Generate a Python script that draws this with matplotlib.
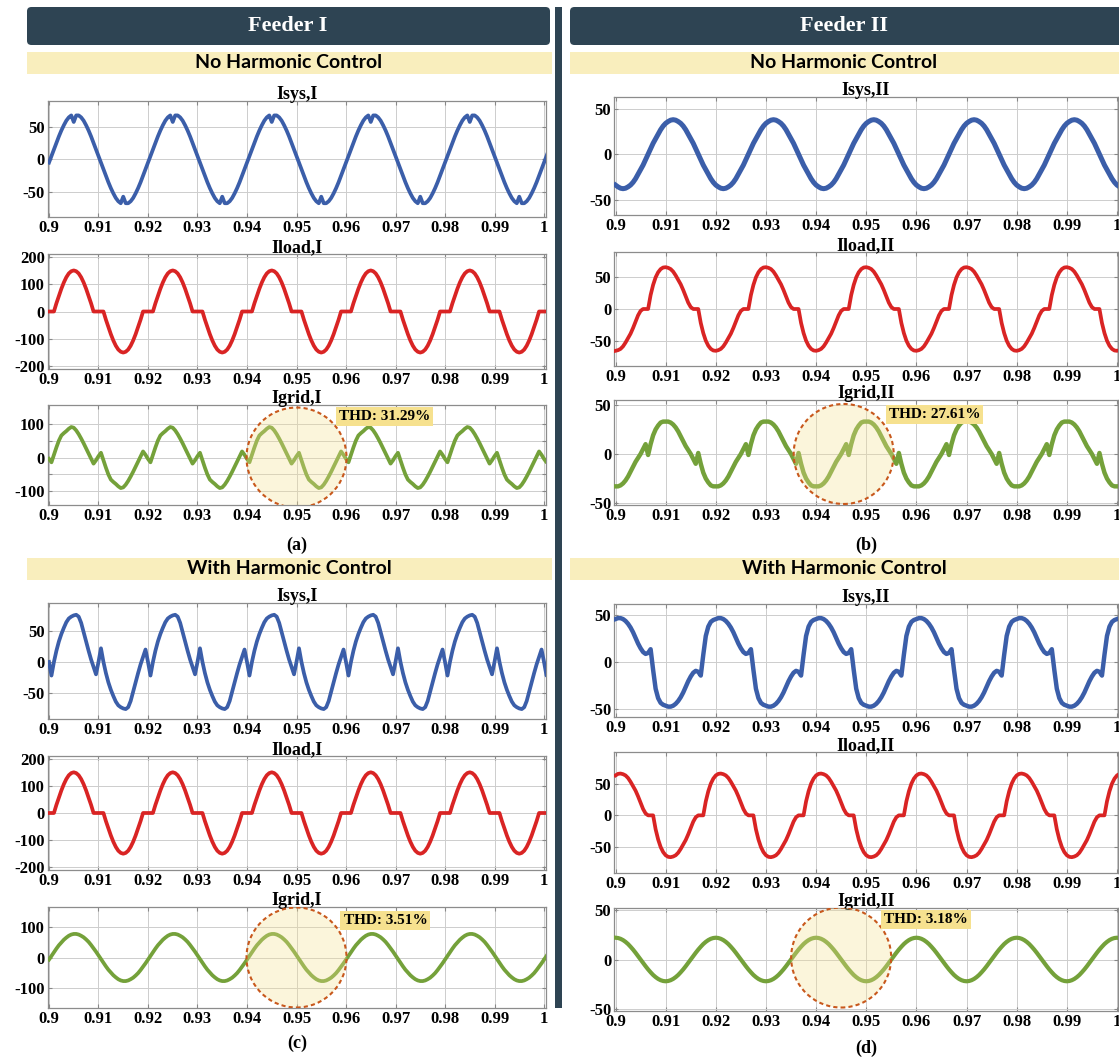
import matplotlib.pyplot as plt
import numpy as np
from matplotlib.patches import Ellipse, FancyBboxPatch, Rectangle

W, H = 1119, 1058

# every waveform: one 20 ms cycle, sampled each 0.5 ms, starting at t = 0.9 s
t_start = 0.9
period = 0.02
x_ticks = [0.9, 0.91, 0.92, 0.93, 0.94, 0.95, 0.96, 0.97, 0.98, 0.99, 1.0]
x_tick_labels = ['0.9', '0.91', '0.92', '0.93', '0.94', '0.95', '0.96', '0.97', '0.98', '0.99', '1']

# (a) Feeder I, no harmonic control
isys_1_noctrl = [-5, 5, 15, 25, 35, 44, 52, 59, 64, 67, 57, 67, 67, 64, 59, 52, 44, 35, 25, 15,
                 5, -5, -15, -25, -35, -44, -52, -59, -64, -67, -57, -67, -67, -64, -59, -52, -44, -35, -25, -15]
iload_1_noctrl = [0, 0, 0, 30, 57, 83, 106, 125, 139, 147, 150, 147, 139, 125, 106, 83, 57, 30, 0, 0,
                  0, 0, 0, -30, -57, -83, -106, -125, -139, -147, -150, -147, -139, -125, -106, -83, -57, -30, 0, 0]
igrid_1_noctrl = [-4, -14, 8, 30, 50, 65, 72, 78, 85, 90, 88, 80, 69, 56, 42, 27, 12, -3, -18, -8,
                  4, 14, -8, -30, -50, -65, -72, -78, -85, -90, -88, -80, -69, -56, -42, -27, -12, 3, 18, 8]

# (b) Feeder II, no harmonic control
isys_2_noctrl = [-34, -36, -37.5, -38, -37.5, -36, -34, -31, -27, -22, -17, -12, -6, 0, 6, 12, 17, 22, 27, 31,
                 34, 36, 37.5, 38, 37.5, 36, 34, 31, 27, 22, 17, 12, 6, 0, -6, -12, -17, -22, -27, -31]
iload_2_noctrl = [-66, -65, -63, -59, -53, -46, -39, -30, -20, -10, -3, 0, 0, 0, 22, 38, 50, 58, 63, 65.5,
                  66, 65, 63, 59, 53, 46, 39, 30, 20, 10, 3, 0, 0, 0, -22, -38, -50, -58, -63, -65.5]
igrid_2_noctrl = [-33, -33, -32, -30, -27, -23, -18, -13, -8, -4, 0, 5, 10, -1, 10, 19, 25, 29, 32, 33,
                  33, 33, 32, 30, 27, 23, 18, 13, 8, 4, 0, -5, -10, 1, -10, -19, -25, -29, -32, -33]

# (c) Feeder I, with harmonic control
isys_1_ctrl = [0, -22, 0, 18, 33, 45, 55, 64, 70, 73, 75, 76, 73, 63, 48, 33, 18, 4, -8, -20,
               0, 22, 0, -18, -33, -45, -55, -64, -70, -73, -75, -76, -73, -63, -48, -33, -18, -4, 8, 20]
iload_1_ctrl = [0, 0, 0, 30, 57, 83, 106, 125, 139, 147, 150, 147, 139, 125, 106, 83, 57, 30, 0, 0,
                0, 0, 0, -30, -57, -83, -106, -125, -139, -147, -150, -147, -139, -125, -106, -83, -57, -30, 0, 0]
igrid_1_ctrl = [-7, 5, 17, 29, 40, 49, 58, 65, 71, 75, 77, 77, 75, 71, 66, 59, 51, 41, 30, 19,
                7, -5, -17, -29, -40, -49, -58, -65, -71, -75, -77, -77, -75, -71, -66, -59, -51, -41, -30, -19]

# (d) Feeder II, with harmonic control
isys_2_ctrl = [46, 47, 47, 46, 44, 41, 37, 32, 26, 20, 15, 11, 9, 10, 14, -8, -28, -38, -43, -45,
               -46, -47, -47, -46, -44, -41, -37, -32, -26, -20, -15, -11, -9, -10, -14, 8, 28, 38, 43, 45]
iload_2_ctrl = [63, 65.5, 66, 65, 63, 59, 53, 46, 39, 30, 20, 10, 3, 0, 0, 0, -22, -38, -50, -58,
                -63, -65.5, -66, -65, -63, -59, -53, -46, -39, -30, -20, -10, -3, 0, 0, 0, 22, 38, 50, 58]
igrid_2_ctrl = [22, 21.7, 20.9, 19.6, 17.8, 15.6, 12.9, 10, 6.8, 3.4, 0, -3.4, -6.8, -10, -12.9, -15.6, -17.8, -19.6, -20.9, -21.7,
                -22, -21.7, -20.9, -19.6, -17.8, -15.6, -12.9, -10, -6.8, -3.4, 0, 3.4, 6.8, 10, 12.9, 15.6, 17.8, 19.6, 20.9, 21.7]

thd_labels = ['THD: 31.29%', 'THD: 27.61%', 'THD: 3.51%', 'THD: 3.18%']
panel_labels = ['(a)', '(b)', '(c)', '(d)']
feeder_titles = ['Feeder I', 'Feeder II']
band_titles = ['No Harmonic Control', 'With Harmonic Control']

BLUE = '#3b5ea9'
RED = '#d92424'
GREEN = '#74a13a'
DARK = '#2e4453'
BAND = '#f9eebd'
SERIF = 'Liberation Serif'

fig = plt.figure(figsize=(W / 100, H / 100), dpi=100)


def periodic(cycle, n_cycles=6):
    # repeat the sampled cycle over the time window
    y = np.append(np.tile(np.asarray(cycle, float), n_cycles), cycle[0])
    t = t_start + np.arange(len(y)) * period / len(cycle)
    return t, y


def add_panel(x0, x1, top, bot, title, cycle, color, ylim, yticks, ylabels, xmax, lw=2.7):
    ax = fig.add_axes([x0 / W, 1 - bot / H, (x1 - x0) / W, (bot - top) / H])
    t, y = periodic(cycle)
    ax.plot(t, y, color=color, lw=lw, zorder=3)
    ax.set_xlim(0.8997, xmax)
    ax.set_ylim(*ylim)
    ax.set_xticks(x_ticks, x_tick_labels)
    ax.set_yticks(yticks, ylabels)
    ax.grid(True, color='#cdcdcd', lw=0.7)
    ax.tick_params(direction='in', length=3, top=True, right=True, color='#888888',
                   labelsize=12, pad=2)
    for lab in ax.get_xticklabels() + ax.get_yticklabels():
        lab.set_family(SERIF)
        lab.set_fontweight('bold')
    for sp in ax.spines.values():
        sp.set_color('#8c8c8c')
        sp.set_linewidth(0.9)
    ax.set_title(title, family=SERIF, fontweight='bold', fontsize=13, pad=1.5)
    return ax


def add_thd(ax, x0, x1, top, bot, center, label_xy, label):
    xl, yl = ax.get_xlim(), ax.get_ylim()
    w = 100 * (xl[1] - xl[0]) / (x1 - x0)
    h = 100 * (yl[1] - yl[0]) / (bot - top)
    ax.add_patch(Ellipse(center, w, h, facecolor=(0.96, 0.88, 0.57, 0.32),
                         edgecolor='#c8581c', lw=1.5, ls=(0, (2, 1.5)), zorder=5))
    ax.text(label_xy[0], label_xy[1], label, family=SERIF, fontweight='bold', fontsize=11,
            ha='left', va='center', zorder=6,
            bbox=dict(boxstyle='square,pad=0.2', fc='#f6e18f', ec='none'))


LX0, LX1 = 47.5, 546
RX0, RX1 = 614, 1118
lmax, rmax = 1.0004, 1.0002

# ---- (a)
add_panel(LX0, LX1, 101, 217, 'Isys,I', isys_1_noctrl, BLUE, (-88, 89), [-50, 0, 50], ['-50', '0', '50'], lmax)
add_panel(LX0, LX1, 254, 369, 'Iload,I', iload_1_noctrl, RED, (-210, 210),
          [-200, -100, 0, 100, 200], ['-200', '-100', '0', '100', '200'], lmax)
ax = add_panel(LX0, LX1, 405, 505, 'Igrid,I', igrid_1_noctrl, GREEN, (-140, 155),
               [-100, -50, 0, 50, 100], ['-100', '', '0', '', '100'], lmax)
add_thd(ax, LX0, LX1, 405, 505, (0.95, 0), (0.9585, 120), thd_labels[0])

# ---- (b)
add_panel(RX0, RX1, 97, 215, 'Isys,II', isys_2_noctrl, BLUE, (-67, 63), [-50, 0, 50], ['-50', '0', '50'], rmax, lw=3.6)
add_panel(RX0, RX1, 252, 366, 'Iload,II', iload_2_noctrl, RED, (-90, 90), [-50, 0, 50], ['-50', '0', '50'], rmax)
ax = add_panel(RX0, RX1, 400, 505, 'Igrid,II', igrid_2_noctrl, GREEN, (-52, 55), [-50, 0, 50], ['-50', '0', '50'], rmax, lw=3.2)
add_thd(ax, RX0, RX1, 400, 505, (0.9455, 0), (0.9545, 40), thd_labels[1])

# ---- (c)
add_panel(LX0, LX1, 603, 719, 'Isys,I', isys_1_ctrl, BLUE, (-92, 95), [-50, 0, 50], ['-50', '0', '50'], lmax)
add_panel(LX0, LX1, 756, 870, 'Iload,I', iload_1_ctrl, RED, (-210, 210),
          [-200, -100, 0, 100, 200], ['-200', '-100', '0', '100', '200'], lmax)
ax = add_panel(LX0, LX1, 907, 1008, 'Igrid,I', igrid_1_ctrl, GREEN, (-165, 165),
               [-100, 0, 100], ['-100', '0', '100'], lmax)
add_thd(ax, LX0, LX1, 907, 1008, (0.95, 0), (0.9595, 120), thd_labels[2])

# ---- (d)
add_panel(RX0, RX1, 604, 717, 'Isys,II', isys_2_ctrl, BLUE, (-58, 62), [-50, 0, 50], ['-50', '0', '50'], rmax, lw=3.2)
add_panel(RX0, RX1, 752, 873, 'Iload,II', iload_2_ctrl, RED, (-91, 100), [-50, 0, 50], ['-50', '0', '50'], rmax)
ax = add_panel(RX0, RX1, 908, 1011, 'Igrid,II', igrid_2_ctrl, GREEN, (-52, 52), [-50, 0, 50], ['-50', '0', '50'], rmax, lw=3.0)
add_thd(ax, RX0, RX1, 908, 1011, (0.945, 2), (0.9535, 40), thd_labels[3])


def fig_rect(x0, x1, y0, y1, color, rounded=False):
    if rounded:
        p = FancyBboxPatch((x0 / W, 1 - y1 / H), (x1 - x0) / W, (y1 - y0) / H,
                           boxstyle='round,pad=0,rounding_size=0.004', transform=fig.transFigure,
                           fc=color, ec='none', zorder=0)
    else:
        p = Rectangle((x0 / W, 1 - y1 / H), (x1 - x0) / W, (y1 - y0) / H,
                      transform=fig.transFigure, fc=color, ec='none', zorder=0)
    fig.add_artist(p)


def fig_text(x, y, s, **kw):
    fig.text(x / W, 1 - y / H, s, ha='center', va='center', **kw)


# headers, bands and divider
fig_rect(27, 550, 7, 45, DARK, rounded=True)
fig_rect(570, 1125, 7, 45, DARK, rounded=True)
fig_rect(555, 562, 7, 1008, DARK)
fig_text(288, 26, feeder_titles[0], color='white', family=SERIF, fontweight='bold', fontsize=16)
fig_text(844, 26, feeder_titles[1], color='white', family=SERIF, fontweight='bold', fontsize=16)

for (x0, x1), yb in [((27, 552), 52), ((570, 1119), 52), ((27, 552), 558), ((570, 1119), 558)]:
    fig_rect(x0, x1, yb, yb + 22, BAND)
fig_text(289, 63, band_titles[0], family='Lato', fontweight='bold', fontsize=14)
fig_text(844, 63, band_titles[0], family='Lato', fontweight='bold', fontsize=14)
fig_text(289, 569, band_titles[1], family='Lato', fontweight='bold', fontsize=14)
fig_text(844, 569, band_titles[1], family='Lato', fontweight='bold', fontsize=14)

for lab, (x, y) in zip(panel_labels, [(297, 545), (866, 545), (297, 1043), (866, 1048)]):
    fig_text(x, y, lab, family=SERIF, fontweight='bold', fontsize=13)

fig.savefig('out.png', dpi=100)
